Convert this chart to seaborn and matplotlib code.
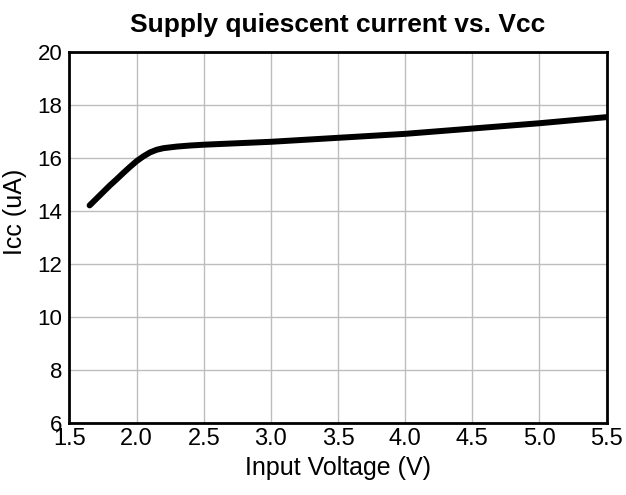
import matplotlib
matplotlib.use("Agg")
import matplotlib.pyplot as plt
import seaborn as sns
import pandas as pd

vcc = [1.65, 1.7, 1.75, 1.8, 1.85, 1.9, 1.95, 2.0, 2.05, 2.1, 2.15, 2.2, 2.3, 2.4, 2.5,
       3.0, 3.5, 4.0, 4.5, 5.0, 5.5]
icc = [14.2, 14.45, 14.7, 14.95, 15.18, 15.42, 15.65, 15.87, 16.05, 16.2, 16.3, 16.36, 16.42, 16.46, 16.49,
       16.6, 16.75, 16.9, 17.1, 17.3, 17.53]
xticks = [1.5, 2.0, 2.5, 3.0, 3.5, 4.0, 4.5, 5.0, 5.5]
yticks = [6, 8, 10, 12, 14, 16, 18, 20]

sns.set_theme(style="white")
plt.rcParams['font.family'] = ['Liberation Sans', 'DejaVu Sans']
plt.rcParams['text.color'] = 'black'
plt.rcParams['axes.labelcolor'] = 'black'

df = pd.DataFrame({"Vcc": vcc, "Icc": icc})

fig = plt.figure(figsize=(6.26, 4.95), dpi=100)
ax = fig.add_axes([0.111, 0.146, 0.858, 0.7496])
sns.lineplot(data=df, x="Vcc", y="Icc", ax=ax, color="black", linewidth=4.3,
             solid_capstyle="round", solid_joinstyle="round")

ax.set_xlim(1.5, 5.5)
ax.set_ylim(6, 20)
ax.set_xticks(xticks)
ax.set_xticklabels([f"{v:.1f}" for v in xticks])
ax.set_yticks(yticks)
ax.grid(True, color="#bdbdbd", linewidth=1)
ax.tick_params(axis="both", length=0, colors="black")
ax.tick_params(axis="x", labelsize=17, pad=4)
ax.tick_params(axis="y", labelsize=16, pad=5)
for s in ax.spines.values():
    s.set_color("black")
    s.set_linewidth(2)

ax.set_xlabel("Input Voltage (V)", fontsize=18, labelpad=4)
ax.set_ylabel("Icc (uA)", fontsize=18)
ax.yaxis.set_label_coords(-0.079, 0.569)
ax.set_title("Supply quiescent current vs. Vcc", fontsize=19, fontweight="bold", pad=14)

fig.savefig("out.png", dpi=100)
